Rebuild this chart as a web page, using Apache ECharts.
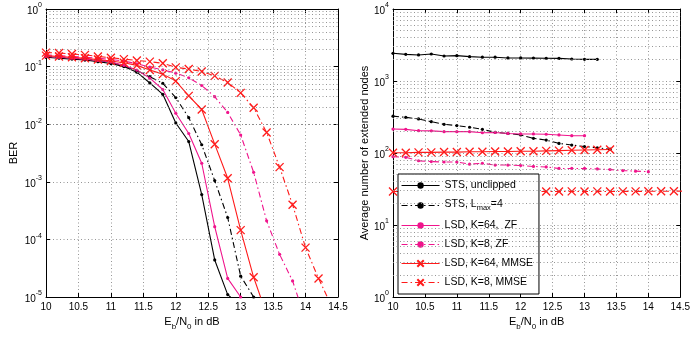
<!DOCTYPE html>
<html><head><meta charset="utf-8">
<script src="https://cdn.jsdelivr.net/npm/echarts@6/dist/echarts.min.js"></script>
<style>html,body{margin:0;padding:0;background:#fff}#c{width:693px;height:337px}</style>
</head><body><div id="c"></div>
<script>
// Eb/N0 in dB (shared x grid, 0.2 dB steps)
const ebN0 = [10.0,10.2,10.4,10.6,10.8,11.0,11.2,11.4,11.6,11.8,12.0,12.2,12.4,12.6,12.8,13.0,13.2,13.4,13.6,13.8,14.0,14.2,14.4,14.6];
const xTicks = [10,10.5,11,11.5,12,12.5,13,13.5,14,14.5];

// Left panel: BER
const berStsUnclipped = [0.145,0.14,0.135,0.13,0.122,0.113,0.1,0.08,0.052,0.033,0.0105,0.005,6e-4,4.4e-5,1.1e-5,7e-6];
const berStsLmax4     = [0.15,0.145,0.14,0.135,0.128,0.12,0.102,0.085,0.067,0.051,0.029,0.013,0.0044,0.00105,2.4e-4,2.3e-5,1e-5];
const berLsdK64ZF     = [0.15,0.145,0.14,0.135,0.128,0.12,0.105,0.087,0.063,0.04,0.0155,0.0069,0.0021,1.66e-4,2.1e-5,1e-5];
const berLsdK8ZF      = [0.16,0.155,0.15,0.145,0.14,0.133,0.125,0.112,0.098,0.088,0.077,0.064,0.047,0.03,0.016,0.0065,0.00146,2.1e-4,5.5e-5,1.9e-5,4e-6];
const berLsdK64MMSE   = [0.155,0.15,0.145,0.14,0.133,0.125,0.117,0.105,0.087,0.074,0.056,0.031,0.018,0.0045,0.00115,1.45e-4,2.2e-5,5e-6];
const berLsdK8MMSE    = [0.175,0.172,0.165,0.16,0.15,0.142,0.135,0.128,0.122,0.114,0.097,0.091,0.082,0.069,0.053,0.035,0.0193,0.0072,0.0018,4e-4,7.2e-5,2.1e-5,7e-6];

// Right panel: average number of extended nodes
const nStsUnclipped = [2425,2345,2300,2370,2225,2250,2180,2140,2140,2090,2090,2080,2070,2060,2020,2000,2000];
const nStsLmax4     = [325,313,297,272,250,240,228,213,194,187,178,160,151,136,129,123,118,113];
const nLsdK64ZF     = [215,213,204,203,198,198,198,191,193,187,184,184,182,178,174,174];
const nLsdK8ZF      = [89,87,78,76,75,75,70,72,68,68,67,65,64,61,61,61,60,59,57,56,55];
const nLsdK64MMSE   = [101,101,102,102,103,103,104,104,105,105,106,106,107,108,109,110,111,112];
const nLsdK8MMSE    = [29.2,29.2,29.1,29.1,29,29,29,29,29,29,29,29.3,29.2,29.2,29.3,29.2,29.3,29.2,29.3,29.3,29.4,29.4,29.5,29.5];

const names = ['STS, unclipped','STS, Lmax=4','LSD, K=64,  ZF','LSD, K=8, ZF','LSD, K=64, MMSE','LSD, K=8, MMSE'];
const BLACK='#000000', MAG='#f0148c', RED='#ff1a1a';
const FONT='Liberation Sans';
const DASHDOT=[6,3,1.5,3];
const XSYM='path://M0,0L10,10M10,0L0,10';

function pairs(vals){ return vals.map((v,i)=>[ebN0[i],v]); }
function mkSeries(name, vals, color, dash, marker, xi, yi){
  const isX = marker==='x';
  return {
    name, type:'line', xAxisIndex:xi, yAxisIndex:yi, data:pairs(vals),
    clip:true, animation:false,
    symbol: isX?XSYM:'circle', symbolSize: isX?8:3.2, showSymbol:true,
    lineStyle:{color, width:1.1, type:dash},
    itemStyle:{color: isX?'rgba(0,0,0,0)':color, borderColor:color, borderWidth: isX?1.3:0},
    emphasis:{disabled:true}
  };
}
function minorLines(d0,d1){
  const out=[];
  for(let e=d0;e<d1;e++){ for(let k=2;k<=9;k++){ out.push({yAxis: k*Math.pow(10,e)}); } }
  return out;
}
function supFmt(v){
  const e=Math.round(Math.log10(v));
  return '{b|10}{e|'+e+'}';
}
const supRich={
  b:{fontSize:10,fontFamily:FONT,color:'#000',verticalAlign:'bottom'},
  e:{fontSize:7,fontFamily:FONT,color:'#000',verticalAlign:'bottom',padding:[0,0,7,0]}
};
const gridLine={show:true,lineStyle:{color:'#8a8a8a',type:[1,2.5],width:0.9}};
function xAxisMain(gi){
  return {type:'value',gridIndex:gi,min:10,max:14.5,interval:0.5,position:'bottom',
    axisLine:{show:true,onZero:false,lineStyle:{color:'#000',width:1}},
    axisTick:{show:true,inside:true,length:4,lineStyle:{color:'#000'}},
    axisLabel:{show:true,color:'#000',fontSize:10,fontFamily:FONT,margin:5,
      formatter:v=>String(v), showMaxLabel:true, showMinLabel:true},
    splitLine:gridLine,
    name:'{a|E}{s|b}{a|/N}{s|0}{a| in dB}', nameLocation:'middle', nameGap:17,
    nameTextStyle:{rich:{a:{fontSize:11,fontFamily:FONT,color:'#000',verticalAlign:'top'},
                         s:{fontSize:8,fontFamily:FONT,color:'#000',verticalAlign:'top',padding:[6,0,0,0]}}}
  };
}
function xAxisMirror(gi){
  return {type:'value',gridIndex:gi,min:10,max:14.5,interval:0.5,position:'top',
    axisLine:{show:true,onZero:false,lineStyle:{color:'#000',width:1}},
    axisTick:{show:true,inside:true,length:4,lineStyle:{color:'#000'}},
    axisLabel:{show:false},splitLine:{show:false}};
}
function yAxisMain(gi,min,max,name,gap){
  return {type:'log',logBase:10,gridIndex:gi,min,max,position:'left',
    axisLine:{show:true,onZero:false,lineStyle:{color:'#000',width:1}},
    axisTick:{show:true,inside:true,length:4,lineStyle:{color:'#000'}},
    axisLabel:{show:true,margin:4,formatter:supFmt,rich:supRich},
    splitLine:gridLine,
    name, nameLocation:'middle', nameGap:gap,
    nameTextStyle:{fontSize:11,fontFamily:FONT,color:'#000'}
  };
}
function yAxisMirror(gi,min,max){
  return {type:'log',logBase:10,gridIndex:gi,min,max,position:'right',
    axisLine:{show:true,onZero:false,lineStyle:{color:'#000',width:1}},
    axisTick:{show:true,inside:true,length:4,lineStyle:{color:'#000'}},
    axisLabel:{show:false},splitLine:{show:false}};
}

const leftSpecs = [
  [names[0], berStsUnclipped, BLACK, 'solid', 'dot'],
  [names[1], berStsLmax4, BLACK, DASHDOT, 'dot'],
  [names[2], berLsdK64ZF, MAG, 'solid', 'dot'],
  [names[3], berLsdK8ZF, MAG, DASHDOT, 'dot'],
  [names[4], berLsdK64MMSE, RED, 'solid', 'x'],
  [names[5], berLsdK8MMSE, RED, DASHDOT, 'x']
];
const rightSpecs = [
  [names[0], nStsUnclipped, BLACK, 'solid', 'dot'],
  [names[1], nStsLmax4, BLACK, DASHDOT, 'dot'],
  [names[2], nLsdK64ZF, MAG, 'solid', 'dot'],
  [names[3], nLsdK8ZF, MAG, DASHDOT, 'dot'],
  [names[4], nLsdK64MMSE, RED, 'solid', 'x'],
  [names[5], nLsdK8MMSE, RED, DASHDOT, 'x']
];

const series=[];
// minor grid carriers
const minorStyle={color:'#8a8a8a',type:[1,2.5],width:0.9};
series.push({type:'line',xAxisIndex:0,yAxisIndex:0,data:[],silent:true,animation:false,
  markLine:{silent:true,symbol:'none',label:{show:false},lineStyle:minorStyle,animation:false,data:minorLines(-5,0)}});
series.push({type:'line',xAxisIndex:2,yAxisIndex:2,data:[],silent:true,animation:false,
  markLine:{silent:true,symbol:'none',label:{show:false},lineStyle:minorStyle,animation:false,data:minorLines(0,4)}});
leftSpecs.forEach(s=>series.push(mkSeries(s[0],s[1],s[2],s[3],s[4],0,0)));
rightSpecs.forEach(s=>series.push(mkSeries(s[0],s[1],s[2],s[3],s[4],2,2)));

const chart=echarts.init(document.getElementById('c'),null,{renderer:'canvas'});
chart.setOption({
  animation:false,
  backgroundColor:'#fff',
  grid:[{left:46,right:355,top:9,bottom:40},{left:393,right:8,top:9,bottom:40}],
  xAxis:[xAxisMain(0),xAxisMirror(0),xAxisMain(1),xAxisMirror(1)],
  yAxis:[yAxisMain(0,1e-5,1,'BER',27),yAxisMirror(0,1e-5,1),
         yAxisMain(1,1,1e4,'Average number of extended nodes',20),yAxisMirror(1,1,1e4)],
  legend:{
    data:names, orient:'vertical', left:398, top:174,
    backgroundColor:'#fff', borderColor:'#000', borderWidth:1, borderRadius:0,
    padding:[6,6,6,3], itemGap:8, itemWidth:38, itemHeight:8,
    lineStyle:{width:1.1},
    formatter:n=> n==='STS, Lmax=4' ? '{t|STS, L}{s|max}{t|=4}' : '{t|'+n+'}',
    textStyle:{color:'#000',fontFamily:FONT,fontSize:10.5,
      rich:{t:{fontSize:10.5,fontFamily:FONT,color:'#000',verticalAlign:'top'},
            s:{fontSize:7.5,fontFamily:FONT,color:'#000',verticalAlign:'top',padding:[5,0,0,0]}}},
    selectedMode:false
  },
  series
});
</script></body></html>
